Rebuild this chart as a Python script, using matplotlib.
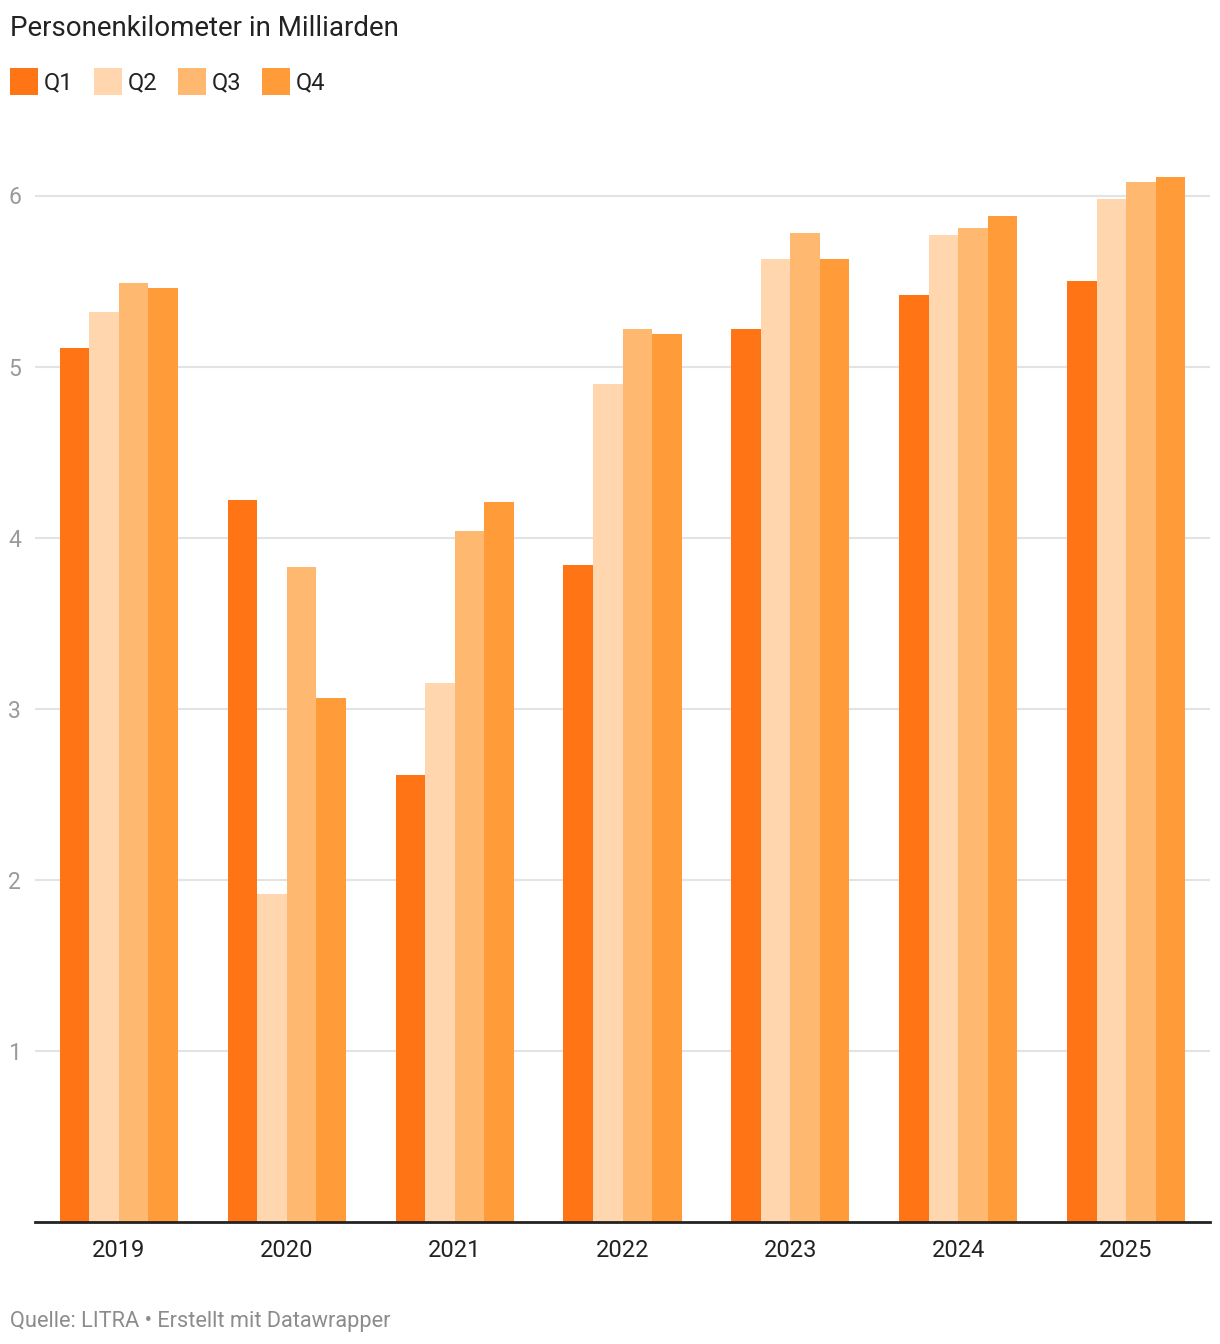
import numpy as np
import matplotlib.pyplot as plt
from matplotlib.patches import Rectangle

plt.rcParams['font.family'] = ['Roboto', 'DejaVu Sans']

years = ['2019', '2020', '2021', '2022', '2023', '2024', '2025']
quarters = ['Q1', 'Q2', 'Q3', 'Q4']
q1 = [5.11, 4.22, 2.61, 3.84, 5.22, 5.42, 5.50]
q2 = [5.32, 1.92, 3.15, 4.90, 5.63, 5.77, 5.98]
q3 = [5.49, 3.83, 4.04, 5.22, 5.78, 5.81, 6.08]
q4 = [5.46, 3.06, 4.21, 5.19, 5.63, 5.88, 6.11]
colors = ['#ff7415', '#ffd6ad', '#ffb870', '#ff9b38']

W, H = 1220, 1344
fig = plt.figure(figsize=(W / 100, H / 100), dpi=100)

ymax = 6.3
y0 = 1222
ppu = (1222 - 195.5) / 6
ytop = y0 - ymax * ppu
ax = fig.add_axes([35 / W, 1 - y0 / H, (1210 - 35) / W, (y0 - ytop) / H])

x = np.arange(len(years))
bw = 0.176
for i, (vals, c) in enumerate(zip([q1, q2, q3, q4], colors)):
    ax.bar(x + (i - 1.5) * bw, vals, width=bw, color=c, linewidth=0, zorder=3)

ax.set_xlim(-0.5, len(years) - 0.5)
ax.set_ylim(0, ymax)
ax.set_yticks([1, 2, 3, 4, 5, 6])
ax.set_yticklabels(['1', '2', '3', '4', '5', '6'], fontsize=16.5, color='#9a9a9a')
ax.yaxis.grid(True, color='#e3e3e3', linewidth=1.5, zorder=0)
ax.tick_params(axis='y', length=0, pad=10)
ax.set_xticks(x)
ax.set_xticklabels(years, fontsize=17, color='#222222')
ax.tick_params(axis='x', length=0, pad=12.5)
for s in ['top', 'right', 'left']:
    ax.spines[s].set_visible(False)
ax.spines['bottom'].set_color('#222222')
ax.spines['bottom'].set_linewidth(2)
ax.spines['bottom'].set_zorder(4)

fig.text(10 / W, 1 - 29 / H, 'Personenkilometer in Milliarden', fontsize=20,
         color='#222222', va='center', ha='left')

for i, (q, c) in enumerate(zip(quarters, colors)):
    lx = 10 + i * 84
    fig.patches.append(Rectangle((lx / W, 1 - 95 / H), 28 / W, 27 / H,
                                 transform=fig.transFigure, color=c, linewidth=0))
    fig.text((lx + 34) / W, 1 - 83 / H, q, fontsize=17, color='#222222',
             va='center', ha='left')

fig.text(10 / W, 1 - 1322 / H, 'Quelle: LITRA • Erstellt mit Datawrapper',
         fontsize=15.7, color='#8c8c8c', va='center', ha='left')

fig.savefig('out.png', dpi=100, facecolor='white')
